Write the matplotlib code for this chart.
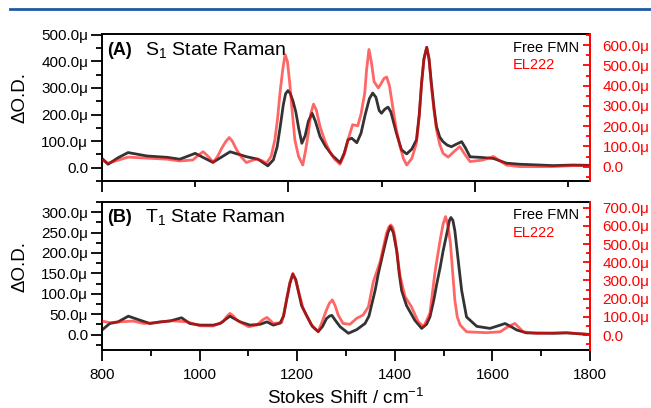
import matplotlib
matplotlib.use("Agg")
import matplotlib.pyplot as plt
from matplotlib.lines import Line2D
from matplotlib.ticker import MultipleLocator, FuncFormatter

plt.rcParams['font.family'] = ['Liberation Sans', 'DejaVu Sans']
plt.rcParams['mathtext.fontset'] = 'custom'
plt.rcParams['mathtext.rm'] = 'Liberation Sans'

# ---------------- data (Stokes shift in cm^-1, signal in micro-OD) ----------------
# (A) S1 state
s1_fmn_x = [800, 813, 834, 856, 897, 940, 967, 1000, 1038, 1075, 1111, 1135, 1156,
            1168, 1176, 1183, 1189, 1194, 1199, 1204, 1210, 1216, 1222, 1229, 1236,
            1243, 1251, 1258, 1268, 1280, 1295, 1311, 1320, 1328, 1336, 1347, 1356,
            1365, 1374, 1381, 1388, 1395, 1400, 1407, 1414, 1420, 1426, 1432, 1438,
            1443, 1454, 1465, 1475, 1481, 1486, 1491, 1497, 1502, 1507, 1513, 1518,
            1525, 1532, 1541, 1550, 1560, 1572, 1580, 1590, 1611, 1640, 1668, 1697,
            1768, 1811, 1845]
s1_fmn_y = [35, 13, 37, 57, 44, 39, 32, 54, 20, 60, 41, 32, 7,
            30, 79, 160, 235, 278, 290, 280, 250, 210, 150, 92, 120,
            175, 205, 175, 117, 80, 45, 19, 55, 105, 111, 94, 130,
            200, 260, 281, 265, 215, 205, 220, 228, 210, 170, 130, 95,
            67, 52, 70, 105, 200, 318, 410, 453, 410, 318, 220, 155,
            115, 98, 85, 79, 88, 98, 75, 41, 39, 35, 17, 13,
            8, 10, 9]
s1_el222_x = [800, 813, 856, 897, 939, 967, 995, 1006, 1017, 1028, 1039, 1048, 1057,
              1066, 1073, 1080, 1089, 1100, 1110, 1121, 1132, 1143, 1153, 1163, 1171,
              1177, 1182, 1188, 1193, 1198, 1203, 1208, 1214, 1222, 1231, 1237, 1243,
              1248, 1254, 1260, 1268, 1278, 1289, 1300, 1311, 1320, 1328, 1338, 1349,
              1356, 1364, 1368, 1373, 1378, 1384, 1393, 1399, 1405, 1411, 1417, 1425,
              1432, 1440, 1447, 1454, 1465, 1475, 1481, 1486, 1491, 1497, 1502, 1507,
              1513, 1518, 1525, 1532, 1543, 1556, 1568, 1579, 1590, 1618, 1640, 1668,
              1697, 1768, 1811, 1845]
s1_el222_y = [33, 17, 47, 42, 37, 28, 33, 55, 74, 50, 22, 50, 91,
              125, 144, 125, 83, 45, 20, 30, 37, 30, 17, 50, 132,
              240, 364, 480, 554, 520, 413, 280, 132, 50, 8, 80, 166,
              260, 309, 280, 198, 130, 72, 35, 12, 60, 132, 207, 202,
              260, 364, 480, 579, 520, 420, 389, 410, 435, 443, 400, 281,
              180, 99, 40, 8, 40, 116, 250, 413, 530, 590, 530, 397,
              270, 182, 110, 66, 47, 75, 99, 60, 25, 33, 50, 8,
              0, 0, 5, 5]

# (B) T1 state
t1_fmn_x = [800, 816, 833, 854, 878, 898, 919, 939, 963, 980, 1001, 1028, 1042,
            1062, 1083, 1103, 1124, 1138, 1151, 1165, 1172, 1178, 1185, 1191, 1197,
            1202, 1209, 1219, 1231, 1243, 1252, 1260, 1266, 1271, 1278, 1288, 1305,
            1322, 1339, 1347, 1353, 1360, 1366, 1373, 1380, 1386, 1391, 1397, 1404,
            1409, 1414, 1424, 1441, 1455, 1465, 1472, 1480, 1486, 1493, 1499, 1507,
            1512, 1515, 1519, 1523, 1527, 1532, 1537, 1547, 1568, 1595, 1616, 1626,
            1640, 1650, 1670, 1725, 1752, 1798]
t1_fmn_y = [11, 27, 31, 45, 35, 27, 31, 33, 41, 27, 23, 23, 27,
            45, 31, 23, 25, 31, 23, 28, 45, 83, 125, 148, 135,
            108, 71, 47, 20, 7, 20, 39, 45, 47, 35, 19, 3,
            12, 27, 45, 75, 110, 148, 185, 221, 250, 265, 250, 205,
            150, 108, 71, 35, 15, 25, 43, 85, 124, 165, 205, 250,
            280, 287, 280, 255, 213, 160, 108, 43, 20, 15, 23, 27,
            18, 11, 4, 3, 4, 0]
t1_el222_x = [800, 816, 837, 864, 885, 912, 939, 974, 1001, 1028, 1048, 1055, 1062,
              1069, 1076, 1100, 1117, 1130, 1138, 1145, 1151, 1168, 1173, 1178, 1185,
              1191, 1197, 1202, 1212, 1228, 1243, 1252, 1260, 1266, 1272, 1278, 1284,
              1294, 1308, 1322, 1335, 1346, 1356, 1370, 1383, 1388, 1392, 1396, 1400,
              1406, 1411, 1421, 1434, 1448, 1459, 1472, 1482, 1488, 1493, 1499, 1504,
              1509, 1514, 1519, 1523, 1528, 1534, 1547, 1588, 1616, 1632, 1646, 1655,
              1663, 1690, 1752, 1798]
t1_el222_y = [77, 68, 73, 77, 64, 68, 79, 73, 51, 50, 73, 100, 119,
              105, 83, 46, 55, 85, 97, 80, 64, 68, 120, 193, 290,
              339, 300, 248, 147, 60, 18, 80, 138, 175, 193, 160, 110,
              64, 59, 92, 110, 156, 293, 403, 559, 595, 605, 590, 541,
              420, 321, 211, 156, 73, 46, 119, 339, 440, 523, 610, 651,
              600, 504, 330, 193, 100, 55, 18, 13, 18, 46, 64, 40,
              18, 9, 13, 4]

panel_labels = ["(A)", "(B)"]
panel_titles = [r"S$_\mathregular{1}$ State Raman", r"T$_\mathregular{1}$ State Raman"]
legend_names = ["Free FMN", "EL222"]
x_label = "Stokes Shift / cm$^\\mathregular{-1}$"
y_label = "\u0394O.D."

# ---------------- figure ----------------
W, H = 651, 408
fig = plt.figure(figsize=(W / 100, H / 100), dpi=100)

fig.add_artist(Line2D([10 / W, 1.0], [1 - 9 / H, 1 - 9 / H], color='#1c5ba4', lw=2.0))

def mu_fmt(v, pos):
    if abs(v) < 1e-9:
        return "0.0"
    return "%.1f\u03bc" % v

RED = '#ff0000'
BLK = '#333333'
TICK_FS = 11

def setup(ax, axr, xlim, xmaj, xmin_, ylim, ymaj, ymin_, rlim, rmaj, rmin_, show_xlabels):
    ax.set_xlim(*xlim)
    ax.set_ylim(*ylim)
    axr.set_ylim(*rlim)
    ax.xaxis.set_major_locator(MultipleLocator(xmaj))
    ax.xaxis.set_minor_locator(MultipleLocator(xmin_))
    ax.yaxis.set_major_locator(MultipleLocator(ymaj))
    ax.yaxis.set_minor_locator(MultipleLocator(ymin_))
    axr.yaxis.set_major_locator(MultipleLocator(rmaj))
    axr.yaxis.set_minor_locator(MultipleLocator(rmin_))
    ax.yaxis.set_major_formatter(FuncFormatter(mu_fmt))
    axr.yaxis.set_major_formatter(FuncFormatter(mu_fmt))
    for s in ['left', 'bottom', 'top']:
        ax.spines[s].set_linewidth(1.4)
        ax.spines[s].set_color('black')
        axr.spines[s].set_visible(False)
    ax.spines['right'].set_visible(False)
    axr.spines['right'].set_color(RED)
    axr.spines['right'].set_linewidth(1.4)
    ax.tick_params(axis='y', which='major', direction='out', length=8, width=1.3,
                   labelsize=TICK_FS, pad=2, right=False)
    ax.tick_params(axis='y', which='minor', direction='out', length=4, width=1.3, right=False)
    ax.tick_params(axis='x', which='major', direction='out', length=8, width=1.3,
                   labelsize=TICK_FS, pad=5, top=False, labelbottom=show_xlabels)
    ax.tick_params(axis='x', which='minor', direction='out', length=4, width=1.3, top=False)
    axr.tick_params(axis='y', which='major', direction='in', length=5, width=1.3,
                    color=RED, labelcolor=RED, labelsize=TICK_FS, pad=9)
    axr.tick_params(axis='y', which='minor', direction='in', length=3, width=1.3, color=RED)

left = 102 / W
width = (590 - 102) / W

ax1 = fig.add_axes([left, 1 - 181 / H, width, (181 - 33.5) / H])
ax1r = ax1.twinx()
ax2 = fig.add_axes([left, 1 - 350 / H, width, (350 - 202) / H])
ax2r = ax2.twinx()

ax1.plot(s1_fmn_x, s1_fmn_y, color=BLK, lw=2.0, solid_joinstyle='round')
ax1r.plot(s1_el222_x, s1_el222_y, color=RED, alpha=0.6, lw=2.0, solid_joinstyle='round')
ax2.plot(t1_fmn_x, t1_fmn_y, color=BLK, lw=2.0, solid_joinstyle='round')
ax2r.plot(t1_el222_x, t1_el222_y, color=RED, alpha=0.6, lw=2.0, solid_joinstyle='round')

setup(ax1, ax1r, (800, 1847.5), 400, 200, (-50, 505), 100, 50, (-71, 658), 100, 50, False)
setup(ax2, ax2r, (800, 1800), 200, 100, (-38, 325), 50, 25, (-82, 731), 100, 50, True)

for ax, lab, title, ytxt, yleg in [(ax1, panel_labels[0], panel_titles[0], 0.885, (0.902, 0.786)),
                                   (ax2, panel_labels[1], panel_titles[1], 0.895, (0.909, 0.791))]:
    ax.text(0.010, ytxt, lab, transform=ax.transAxes, fontsize=13, fontweight='bold',
            va='center', ha='left')
    ax.text(0.088, ytxt, title, transform=ax.transAxes, fontsize=14,
            va='center', ha='left')
    ax.text(0.842, yleg[0], legend_names[0], transform=ax.transAxes, fontsize=10.5,
            color='black', va='center', ha='left')
    ax.text(0.842, yleg[1], legend_names[1], transform=ax.transAxes, fontsize=10.5,
            color=RED, va='center', ha='left')
    ax.set_ylabel(y_label, fontsize=13.5)
    ax.yaxis.set_label_coords(-0.150, 0.567)

ax2.xaxis.set_label_coords(0.5, -0.325)
ax2.set_xlabel(x_label, fontsize=13.5, va='center')

fig.savefig("out.png", dpi=100)
